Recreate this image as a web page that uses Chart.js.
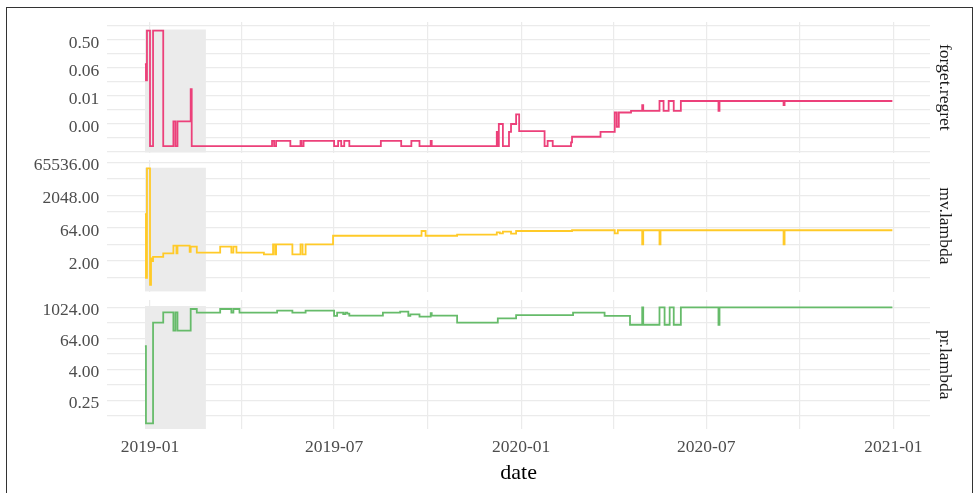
<!DOCTYPE html>
<html lang="en">
<head>
    <meta charset="UTF-8">
    <title>Parameter paths</title>
    <script src="https://cdn.jsdelivr.net/npm/chart.js"></script>
    <style>
        body { margin: 0; background: #fff; width: 974px; height: 493px; overflow: hidden; position: relative; }
        .frame { position: absolute; left: 6px; top: 7px; width: 967px; height: 500px; border: 1.4px solid #333; box-sizing: border-box; }
        canvas { position: absolute; left: 0; }
    </style>
</head>
<body>
<div class="frame"></div>
<canvas id="forget-chart" width="974" height="160" style="top:0px"></canvas>
<canvas id="mv-chart" width="974" height="146" style="top:153px"></canvas>
<canvas id="pr-chart" width="974" height="200" style="top:293px"></canvas>

<script>
// x range and ticks
const xMin = '2018-11-20';
const xMax = '2021-02-06';
const xMajorTicks = ['2019-01-01', '2019-07-01', '2020-01-01', '2020-07-01', '2021-01-01'];

// shaded warm-up window
const shadeStart = '2018-12-27';
const shadeEnd = '2019-02-25';

// forget.regret
const forgetDates = ['2018-12-27','2018-12-28','2018-12-29','2019-01-01','2019-01-04','2019-01-14','2019-01-24','2019-01-26','2019-01-28','2019-02-10',
    '2019-02-11','2019-05-01','2019-05-03','2019-05-05','2019-05-19','2019-05-29','2019-05-30','2019-06-01','2019-07-01','2019-07-05',
    '2019-07-08','2019-07-11','2019-07-16','2019-08-16','2019-09-05','2019-09-15','2019-09-23','2019-10-04','2019-10-05','2019-12-08',
    '2019-12-09','2019-12-10','2019-12-14','2019-12-20','2019-12-22','2019-12-27','2019-12-30','2020-01-24','2020-01-27','2020-02-01',
    '2020-02-19','2020-02-20','2020-03-19','2020-04-02','2020-04-04','2020-04-06','2020-04-18','2020-04-29','2020-04-30','2020-05-16',
    '2020-05-20','2020-05-25','2020-05-30','2020-06-06','2020-07-13','2020-07-14','2020-09-15','2020-09-16','2020-12-31'];
const forgetValues = [0.084, 0.025, 1.0, 0.00019, 1.0, 0.00019, 0.0012, 0.00019, 0.0012, 0.013,
    0.00019, 0.00028, 0.00019, 0.00028, 0.00019, 0.00028, 0.00019, 0.00028, 0.00019, 0.00028,
    0.00019, 0.00028, 0.00019, 0.00028, 0.00019, 0.00028, 0.00019, 0.00028, 0.00019, 0.00055,
    0.00019, 0.00098, 0.00019, 0.00055, 0.00098, 0.002, 0.00058, 0.00019, 0.00028, 0.00019,
    0.00025, 0.00038, 0.00055, 0.0023, 0.0008, 0.0023, 0.0026, 0.004, 0.0026, 0.0054,
    0.0026, 0.0054, 0.0026, 0.0054, 0.0026, 0.0054, 0.004, 0.0054, 0.0054];

// mv.lambda
const mvDates = ['2018-12-27','2018-12-28','2018-12-29','2019-01-01','2019-01-02','2019-01-03','2019-01-04','2019-01-14','2019-01-24','2019-01-27',
    '2019-01-28','2019-02-09','2019-02-10','2019-02-16','2019-03-11','2019-03-22','2019-03-24','2019-03-27','2019-04-23','2019-05-02',
    '2019-05-04','2019-05-05','2019-05-21','2019-05-29','2019-05-31','2019-06-03','2019-06-30','2019-09-25','2019-09-29','2019-10-30',
    '2019-12-08','2019-12-11','2019-12-14','2019-12-22','2019-12-27','2020-02-20','2020-04-02','2020-04-05','2020-04-29','2020-04-30',
    '2020-05-16','2020-05-17','2020-09-15','2020-09-16','2020-12-31'];
const mvValues = [276, 0.34, 34800, 0.16, 2.66, 2.0, 3.1, 4.5, 10, 4.5,
    10, 5.3, 9, 4.8, 9, 4.8, 9, 4.8, 4.05, 11.6,
    4.05, 11.6, 4.05, 11.6, 4.05, 11.6, 28.6, 47, 28.6, 32,
    41, 36.8, 44, 35.5, 47, 51, 36.8, 51, 11.6, 51,
    11.6, 51, 11.6, 51, 51];

// pr.lambda
const prDates = ['2018-12-27','2018-12-28','2019-01-04','2019-01-14','2019-01-24','2019-01-26','2019-01-28','2019-02-10','2019-02-16','2019-03-11',
    '2019-03-22','2019-03-24','2019-03-30','2019-05-06','2019-05-21','2019-06-03','2019-07-01','2019-07-04','2019-07-10','2019-07-12',
    '2019-07-14','2019-07-16','2019-08-18','2019-09-04','2019-09-12','2019-09-14','2019-09-23','2019-10-04','2019-10-05','2019-10-30',
    '2019-12-09','2019-12-27','2020-02-21','2020-03-23','2020-04-17','2020-04-29','2020-04-30','2020-05-16','2020-05-21','2020-05-26',
    '2020-05-30','2020-06-06','2020-07-13','2020-07-14','2020-12-31'];
const prValues = [32, 0.032, 258, 653, 126, 653, 126, 880, 630, 880,
    630, 880, 630, 755, 630, 755, 471, 630, 560, 630,
    580, 484, 630, 690, 471, 548, 442, 600, 484, 258,
    383, 512, 630, 471, 215, 1024, 215, 1024, 215, 1024,
    215, 1024, 215, 1024, 1024];

// labelled y breaks (log2 spaced)
const forgetTicks = [0.5, 0.0625, 0.0078125, 0.0009765625];
const mvTicks = [65536, 2048, 64, 2];
const prTicks = [1024, 64, 4, 0.25];

const serif = "'Liberation Serif', 'Times New Roman', serif";
const gridColor = '#ebebeb';
const tickFont = { family: serif, size: 17.5 };

function toMs(s) {
    const [y, m, d] = s.split('-').map(Number);
    return Date.UTC(y, m - 1, d);
}

function fmtMonth(ms) {
    const d = new Date(ms);
    return d.getUTCFullYear() + '-' + String(d.getUTCMonth() + 1).padStart(2, '0');
}

const xMajorMs = xMajorTicks.map(toMs);
const xTickValues = [];
xMajorMs.forEach((v, i) => {
    xTickValues.push(v);
    if (i < xMajorMs.length - 1) xTickValues.push((v + xMajorMs[i + 1]) / 2);
});

function logTicks(majors, min, max) {
    const r = majors[0] / majors[1];
    const all = [majors[0] * r, ...majors, majors[majors.length - 1] / r];
    const out = [];
    all.forEach((v, i) => {
        out.push(v);
        if (i < all.length - 1) out.push(Math.sqrt(v * all[i + 1]));
    });
    return out.filter(v => v >= min && v <= max);
}

function buildPanel(id, p) {
    const yTicks = logTicks(p.majors, p.yMin, p.yMax);
    const line = p.dates.map((d, i) => ({ x: toMs(d), y: p.values[i] }));
    const shade = [{ x: toMs(shadeStart), y: p.shadeTop }, { x: toMs(shadeEnd), y: p.shadeTop }];

    return new Chart(document.getElementById(id), {
        type: 'line',
        data: {
            datasets: [
                { data: line, borderColor: p.color, borderWidth: 1.8, pointRadius: 0, stepped: true, fill: false, order: 0 },
                { data: shade, borderWidth: 0, pointRadius: 0, backgroundColor: gridColor, fill: 'start', order: 1 }
            ]
        },
        options: {
            responsive: false,
            animation: false,
            events: [],
            layout: { padding: p.padding },
            plugins: { legend: { display: false }, tooltip: { enabled: false } },
            scales: {
                x: {
                    type: 'linear',
                    min: toMs(xMin),
                    max: toMs(xMax),
                    bounds: 'data',
                    grid: { color: gridColor, lineWidth: 1.2, drawTicks: false },
                    border: { display: false },
                    ticks: {
                        display: p.showX, autoSkip: false, maxRotation: 0, minRotation: 0, padding: 8,
                        color: '#4d4d4d', font: tickFont,
                        callback: v => xMajorMs.includes(v) ? fmtMonth(v) : ''
                    },
                    title: { display: p.showX, text: 'date', color: '#000', font: { family: serif, size: 22 }, padding: { top: 0, bottom: 7 } },
                    afterBuildTicks: s => { s.ticks = xTickValues.map(v => ({ value: v })); },
                    afterFit: s => { s.height = p.xHeight; s.paddingLeft = 0; s.paddingRight = 0; }
                },
                y: {
                    type: 'logarithmic',
                    position: 'left',
                    min: p.yMin,
                    max: p.yMax,
                    bounds: 'data',
                    grid: { color: gridColor, lineWidth: 1.2, drawTicks: false },
                    border: { display: false },
                    ticks: {
                        autoSkip: false, padding: 8, labelOffset: 3, color: '#4d4d4d', font: tickFont,
                        callback: v => p.majors.includes(v) ? v.toFixed(2) : ''
                    },
                    afterBuildTicks: s => { s.ticks = yTicks.map(v => ({ value: v })); },
                    afterFit: s => { s.width = 107.3; s.paddingTop = 0; s.paddingBottom = 0; }
                },
                strip: {
                    type: 'linear',
                    position: 'right',
                    display: true,
                    grid: { display: false },
                    border: { display: false },
                    ticks: { display: false },
                    title: { display: true, text: p.label, color: '#1a1a1a', font: tickFont, padding: { top: 19, bottom: 0 } },
                    afterFit: s => { s.width = 44; s.paddingTop = 0; s.paddingBottom = 0; }
                }
            }
        }
    });
}

document.addEventListener('DOMContentLoaded', () => {
    buildPanel('forget-chart', {
        label: 'forget.regret', color: '#EC407A', dates: forgetDates, values: forgetValues,
        majors: forgetTicks, yMin: 0.0001165, yMax: 1.905, shadeTop: 1.1,
        padding: { top: 22, bottom: 7.3, left: 0, right: 0 }, showX: false, xHeight: 0
    });
    buildPanel('mv-chart', {
        label: 'mv.lambda', color: '#FFCA28', dates: mvDates, values: mvValues,
        majors: mvTicks, yMin: 0.0786, yMax: 83600, shadeTop: 37000,
        padding: { top: 7, bottom: 7.3, left: 0, right: 0 }, showX: false, xHeight: 0
    });
    buildPanel('pr-chart', {
        label: 'pr.lambda', color: '#66BB6A', dates: prDates, values: prValues,
        majors: prTicks, yMin: 0.0187, yMax: 1965, shadeTop: 1150,
        padding: { top: 7, bottom: 0, left: 0, right: 0 }, showX: true, xHeight: 63.7
    });
});
</script>
</body>
</html>
